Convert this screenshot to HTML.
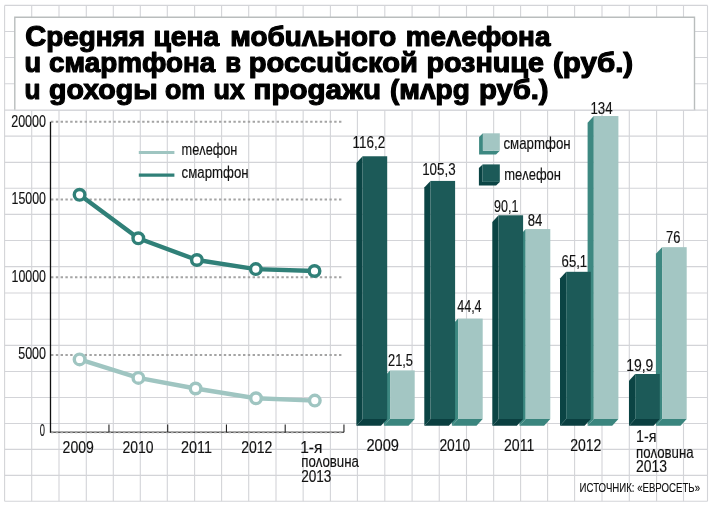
<!DOCTYPE html><html><head><meta charset="utf-8"><style>html,body{margin:0;padding:0;background:#fff;}svg{display:block}text{font-family:"Liberation Sans",sans-serif;}svg{will-change:transform}</style></head><body>
<svg width="712" height="508" viewBox="0 0 712 508">
<rect x="0" y="0" width="712" height="508" fill="#fff"/>
<line x1="4.60" y1="5.40" x2="4.60" y2="501.20" stroke="#d3d4d8" stroke-width="1.1"/>
<line x1="31.70" y1="5.40" x2="31.70" y2="501.20" stroke="#d3d4d8" stroke-width="1.1"/>
<line x1="59.00" y1="5.40" x2="59.00" y2="501.20" stroke="#d3d4d8" stroke-width="1.1"/>
<line x1="86.30" y1="5.40" x2="86.30" y2="501.20" stroke="#d3d4d8" stroke-width="1.1"/>
<line x1="113.30" y1="5.40" x2="113.30" y2="501.20" stroke="#d3d4d8" stroke-width="1.1"/>
<line x1="140.30" y1="5.40" x2="140.30" y2="501.20" stroke="#d3d4d8" stroke-width="1.1"/>
<line x1="167.30" y1="5.40" x2="167.30" y2="501.20" stroke="#d3d4d8" stroke-width="1.1"/>
<line x1="194.60" y1="5.40" x2="194.60" y2="501.20" stroke="#d3d4d8" stroke-width="1.1"/>
<line x1="221.60" y1="5.40" x2="221.60" y2="501.20" stroke="#d3d4d8" stroke-width="1.1"/>
<line x1="248.70" y1="5.40" x2="248.70" y2="501.20" stroke="#d3d4d8" stroke-width="1.1"/>
<line x1="276.00" y1="5.40" x2="276.00" y2="501.20" stroke="#d3d4d8" stroke-width="1.1"/>
<line x1="303.15" y1="5.40" x2="303.15" y2="501.20" stroke="#d3d4d8" stroke-width="1.1"/>
<line x1="330.40" y1="5.40" x2="330.40" y2="501.20" stroke="#d3d4d8" stroke-width="1.1"/>
<line x1="357.40" y1="5.40" x2="357.40" y2="501.20" stroke="#d3d4d8" stroke-width="1.1"/>
<line x1="384.80" y1="5.40" x2="384.80" y2="501.20" stroke="#d3d4d8" stroke-width="1.1"/>
<line x1="412.10" y1="5.40" x2="412.10" y2="501.20" stroke="#d3d4d8" stroke-width="1.1"/>
<line x1="439.25" y1="5.40" x2="439.25" y2="501.20" stroke="#d3d4d8" stroke-width="1.1"/>
<line x1="466.50" y1="5.40" x2="466.50" y2="501.20" stroke="#d3d4d8" stroke-width="1.1"/>
<line x1="493.65" y1="5.40" x2="493.65" y2="501.20" stroke="#d3d4d8" stroke-width="1.1"/>
<line x1="520.60" y1="5.40" x2="520.60" y2="501.20" stroke="#d3d4d8" stroke-width="1.1"/>
<line x1="547.60" y1="5.40" x2="547.60" y2="501.20" stroke="#d3d4d8" stroke-width="1.1"/>
<line x1="574.60" y1="5.40" x2="574.60" y2="501.20" stroke="#d3d4d8" stroke-width="1.1"/>
<line x1="602.00" y1="5.40" x2="602.00" y2="501.20" stroke="#d3d4d8" stroke-width="1.1"/>
<line x1="629.30" y1="5.40" x2="629.30" y2="501.20" stroke="#d3d4d8" stroke-width="1.1"/>
<line x1="656.60" y1="5.40" x2="656.60" y2="501.20" stroke="#d3d4d8" stroke-width="1.1"/>
<line x1="683.50" y1="5.40" x2="683.50" y2="501.20" stroke="#d3d4d8" stroke-width="1.1"/>
<line x1="707.50" y1="5.40" x2="707.50" y2="501.20" stroke="#d3d4d8" stroke-width="1.1"/>
<line x1="4.60" y1="5.40" x2="707.50" y2="5.40" stroke="#d3d4d8" stroke-width="1.1"/>
<line x1="4.60" y1="31.50" x2="707.50" y2="31.50" stroke="#d3d4d8" stroke-width="1.1"/>
<line x1="4.60" y1="57.55" x2="707.50" y2="57.55" stroke="#d3d4d8" stroke-width="1.1"/>
<line x1="4.60" y1="83.80" x2="707.50" y2="83.80" stroke="#d3d4d8" stroke-width="1.1"/>
<line x1="4.60" y1="110.10" x2="707.50" y2="110.10" stroke="#d3d4d8" stroke-width="1.1"/>
<line x1="4.60" y1="136.10" x2="707.50" y2="136.10" stroke="#d3d4d8" stroke-width="1.1"/>
<line x1="4.60" y1="162.40" x2="707.50" y2="162.40" stroke="#d3d4d8" stroke-width="1.1"/>
<line x1="4.60" y1="188.30" x2="707.50" y2="188.30" stroke="#d3d4d8" stroke-width="1.1"/>
<line x1="4.60" y1="214.40" x2="707.50" y2="214.40" stroke="#d3d4d8" stroke-width="1.1"/>
<line x1="4.60" y1="240.50" x2="707.50" y2="240.50" stroke="#d3d4d8" stroke-width="1.1"/>
<line x1="4.60" y1="266.60" x2="707.50" y2="266.60" stroke="#d3d4d8" stroke-width="1.1"/>
<line x1="4.60" y1="293.00" x2="707.50" y2="293.00" stroke="#d3d4d8" stroke-width="1.1"/>
<line x1="4.60" y1="319.25" x2="707.50" y2="319.25" stroke="#d3d4d8" stroke-width="1.1"/>
<line x1="4.60" y1="345.35" x2="707.50" y2="345.35" stroke="#d3d4d8" stroke-width="1.1"/>
<line x1="4.60" y1="371.50" x2="707.50" y2="371.50" stroke="#d3d4d8" stroke-width="1.1"/>
<line x1="4.60" y1="397.50" x2="707.50" y2="397.50" stroke="#d3d4d8" stroke-width="1.1"/>
<line x1="4.60" y1="423.50" x2="707.50" y2="423.50" stroke="#d3d4d8" stroke-width="1.1"/>
<line x1="4.60" y1="449.35" x2="707.50" y2="449.35" stroke="#d3d4d8" stroke-width="1.1"/>
<line x1="4.60" y1="475.35" x2="707.50" y2="475.35" stroke="#d3d4d8" stroke-width="1.1"/>
<line x1="4.60" y1="501.20" x2="707.50" y2="501.20" stroke="#d3d4d8" stroke-width="1.1"/>
<path d="M14.8 110.1 V17.3 H694.5 V110.1" fill="#fff" stroke="#b9bdbd" stroke-width="1.4"/>
<line x1="14" y1="110.1" x2="695.3" y2="110.1" stroke="#d3d4d8" stroke-width="1.1"/>
<text x="25.20" y="46.3" font-size="27.8" font-weight="bold" fill="#000" textLength="119.80" lengthAdjust="spacingAndGlyphs" stroke="#000" stroke-width="1.2" stroke-linejoin="round"><tspan font-size="29">С</tspan>реgняя</text>
<text x="153.40" y="46.3" font-size="27.8" font-weight="bold" fill="#000" textLength="65.80" lengthAdjust="spacingAndGlyphs" stroke="#000" stroke-width="1.2" stroke-linejoin="round">цена</text>
<text x="230.20" y="46.3" font-size="27.8" font-weight="bold" fill="#000" textLength="166.20" lengthAdjust="spacingAndGlyphs" stroke="#000" stroke-width="1.2" stroke-linejoin="round">мобuʌьного</text>
<text x="405.80" y="46.3" font-size="27.8" font-weight="bold" fill="#000" textLength="144.60" lengthAdjust="spacingAndGlyphs" stroke="#000" stroke-width="1.2" stroke-linejoin="round">mеʌефона</text>
<text x="24.60" y="72.3" font-size="27.8" font-weight="bold" fill="#000" textLength="16.60" lengthAdjust="spacingAndGlyphs" stroke="#000" stroke-width="1.2" stroke-linejoin="round">u</text>
<text x="49.00" y="72.3" font-size="27.8" font-weight="bold" fill="#000" textLength="166.20" lengthAdjust="spacingAndGlyphs" stroke="#000" stroke-width="1.2" stroke-linejoin="round">смарmфона</text>
<text x="225.20" y="72.3" font-size="27.8" font-weight="bold" fill="#000" textLength="15.80" lengthAdjust="spacingAndGlyphs" stroke="#000" stroke-width="1.2" stroke-linejoin="round">в</text>
<text x="248.80" y="72.3" font-size="27.8" font-weight="bold" fill="#000" textLength="169.00" lengthAdjust="spacingAndGlyphs" stroke="#000" stroke-width="1.2" stroke-linejoin="round">россuŭской</text>
<text x="426.40" y="72.3" font-size="27.8" font-weight="bold" fill="#000" textLength="117.60" lengthAdjust="spacingAndGlyphs" stroke="#000" stroke-width="1.2" stroke-linejoin="round">рознuце</text>
<text x="553.00" y="72.3" font-size="27.8" font-weight="bold" fill="#000" textLength="80.20" lengthAdjust="spacingAndGlyphs" stroke="#000" stroke-width="1.2" stroke-linejoin="round">(руб.)</text>
<text x="24.40" y="99.2" font-size="27.8" font-weight="bold" fill="#000" textLength="16.00" lengthAdjust="spacingAndGlyphs" stroke="#000" stroke-width="1.2" stroke-linejoin="round">u</text>
<text x="49.00" y="99.2" font-size="27.8" font-weight="bold" fill="#000" textLength="108.60" lengthAdjust="spacingAndGlyphs" stroke="#000" stroke-width="1.2" stroke-linejoin="round">gохоgы</text>
<text x="165.00" y="99.2" font-size="27.8" font-weight="bold" fill="#000" textLength="40.20" lengthAdjust="spacingAndGlyphs" stroke="#000" stroke-width="1.2" stroke-linejoin="round">om</text>
<text x="213.40" y="99.2" font-size="27.8" font-weight="bold" fill="#000" textLength="31.40" lengthAdjust="spacingAndGlyphs" stroke="#000" stroke-width="1.2" stroke-linejoin="round">uх</text>
<text x="253.60" y="99.2" font-size="27.8" font-weight="bold" fill="#000" textLength="127.40" lengthAdjust="spacingAndGlyphs" stroke="#000" stroke-width="1.2" stroke-linejoin="round">проgажu</text>
<text x="390.00" y="99.2" font-size="27.8" font-weight="bold" fill="#000" textLength="79.80" lengthAdjust="spacingAndGlyphs" stroke="#000" stroke-width="1.2" stroke-linejoin="round">(мʌрg</text>
<text x="479.00" y="99.2" font-size="27.8" font-weight="bold" fill="#000" textLength="69.60" lengthAdjust="spacingAndGlyphs" stroke="#000" stroke-width="1.2" stroke-linejoin="round">руб.)</text>
<line x1="51" y1="121.8" x2="341.5" y2="121.8" stroke="#a4a4a4" stroke-width="2" stroke-dasharray="2.4 2.4"/>
<line x1="51" y1="199.5" x2="341.5" y2="199.5" stroke="#a4a4a4" stroke-width="2" stroke-dasharray="2.4 2.4"/>
<line x1="51" y1="277.2" x2="341.5" y2="277.2" stroke="#a4a4a4" stroke-width="2" stroke-dasharray="2.4 2.4"/>
<line x1="51" y1="354.9" x2="341.5" y2="354.9" stroke="#a4a4a4" stroke-width="2" stroke-dasharray="2.4 2.4"/>
<line x1="50.5" y1="432.2" x2="344" y2="432.2" stroke="#111" stroke-width="1"/>
<line x1="51" y1="432.2" x2="341.5" y2="432.2" stroke="#a4a4a4" stroke-width="2" stroke-dasharray="2.4 2.4"/>
<line x1="50.5" y1="121.8" x2="50.5" y2="432.7" stroke="#111" stroke-width="1.3"/>
<line x1="108.95" y1="424.5" x2="108.95" y2="432.2" stroke="#222" stroke-width="1.1"/>
<line x1="167.70" y1="424.5" x2="167.70" y2="432.2" stroke="#222" stroke-width="1.1"/>
<line x1="226.45" y1="424.5" x2="226.45" y2="432.2" stroke="#222" stroke-width="1.1"/>
<line x1="285.20" y1="424.5" x2="285.20" y2="432.2" stroke="#222" stroke-width="1.1"/>
<line x1="343.95" y1="424.5" x2="343.95" y2="432.2" stroke="#222" stroke-width="1.1"/>
<text x="11.20" y="126.8" font-size="16" font-weight="normal" fill="#111" textLength="34.80" lengthAdjust="spacingAndGlyphs" stroke="#111" stroke-width="0.15">20000</text>
<text x="11.60" y="203.9" font-size="16" font-weight="normal" fill="#111" textLength="34.40" lengthAdjust="spacingAndGlyphs" stroke="#111" stroke-width="0.15">15000</text>
<text x="11.60" y="281.8" font-size="16" font-weight="normal" fill="#111" textLength="34.40" lengthAdjust="spacingAndGlyphs" stroke="#111" stroke-width="0.15">10000</text>
<text x="18.20" y="359.0" font-size="16" font-weight="normal" fill="#111" textLength="27.80" lengthAdjust="spacingAndGlyphs" stroke="#111" stroke-width="0.15">5000</text>
<text x="39.80" y="436.4" font-size="16" font-weight="normal" fill="#111" textLength="5.20" lengthAdjust="spacingAndGlyphs" stroke="#111" stroke-width="0.15">0</text>
<text x="62.60" y="452.5" font-size="16" font-weight="normal" fill="#111" textLength="31.20" lengthAdjust="spacingAndGlyphs" stroke="#111" stroke-width="0.15">2009</text>
<text x="122.40" y="452.5" font-size="16" font-weight="normal" fill="#111" textLength="31.00" lengthAdjust="spacingAndGlyphs" stroke="#111" stroke-width="0.15">2010</text>
<text x="181.00" y="452.5" font-size="16" font-weight="normal" fill="#111" textLength="31.00" lengthAdjust="spacingAndGlyphs" stroke="#111" stroke-width="0.15">2011</text>
<text x="241.20" y="452.5" font-size="16" font-weight="normal" fill="#111" textLength="31.20" lengthAdjust="spacingAndGlyphs" stroke="#111" stroke-width="0.15">2012</text>
<text x="300.20" y="452.5" font-size="16" font-weight="normal" fill="#111" textLength="22.20" lengthAdjust="spacingAndGlyphs" stroke="#111" stroke-width="0.15">1-я</text>
<text x="301.20" y="467.2" font-size="16" font-weight="normal" fill="#111" textLength="57.80" lengthAdjust="spacingAndGlyphs" stroke="#111" stroke-width="0.15">поʌовuна</text>
<text x="301.20" y="482.1" font-size="16" font-weight="normal" fill="#111" textLength="30.20" lengthAdjust="spacingAndGlyphs" stroke="#111" stroke-width="0.15">2013</text>
<path d="M79.6,359.4 L138.4,377.9 L195.6,388.5 L256,398.3 L314.8,400.6" fill="none" stroke="#9fc5c1" stroke-width="4.4" stroke-linejoin="round"/>
<circle cx="79.6" cy="359.4" r="5.3" fill="#fff" stroke="#9fc5c1" stroke-width="3.4"/>
<circle cx="138.4" cy="377.9" r="5.3" fill="#fff" stroke="#9fc5c1" stroke-width="3.4"/>
<circle cx="195.6" cy="388.5" r="5.3" fill="#fff" stroke="#9fc5c1" stroke-width="3.4"/>
<circle cx="256" cy="398.3" r="5.3" fill="#fff" stroke="#9fc5c1" stroke-width="3.4"/>
<circle cx="314.8" cy="400.6" r="5.3" fill="#fff" stroke="#9fc5c1" stroke-width="3.4"/>
<path d="M79.6,194.8 L138.3,238.3 L196.9,260 L255.8,269.1 L314.5,271" fill="none" stroke="#308078" stroke-width="4.4" stroke-linejoin="round"/>
<circle cx="79.6" cy="194.8" r="5.3" fill="#fff" stroke="#308078" stroke-width="3.4"/>
<circle cx="138.3" cy="238.3" r="5.3" fill="#fff" stroke="#308078" stroke-width="3.4"/>
<circle cx="196.9" cy="260" r="5.3" fill="#fff" stroke="#308078" stroke-width="3.4"/>
<circle cx="255.8" cy="269.1" r="5.3" fill="#fff" stroke="#308078" stroke-width="3.4"/>
<circle cx="314.5" cy="271" r="5.3" fill="#fff" stroke="#308078" stroke-width="3.4"/>
<line x1="138.8" y1="152.4" x2="174.4" y2="152.4" stroke="#9fc5c1" stroke-width="3"/>
<line x1="138.8" y1="175.1" x2="174.4" y2="175.1" stroke="#308078" stroke-width="3.4"/>
<text x="181.60" y="154.8" font-size="16" font-weight="normal" fill="#111" textLength="55.80" lengthAdjust="spacingAndGlyphs" stroke="#111" stroke-width="0.15">mеʌефон</text>
<text x="181.60" y="177.5" font-size="16" font-weight="normal" fill="#111" textLength="67.00" lengthAdjust="spacingAndGlyphs" stroke="#111" stroke-width="0.15">смарmфон</text>
<polygon points="390.1,419.0 414.70000000000005,419.0 408.50000000000006,425.7 383.90000000000003,425.7" fill="#3a857e"/>
<polygon points="390.1,370.3885 383.90000000000003,377.0885 383.90000000000003,425.7 390.1,419.0" fill="#3d8881"/>
<rect x="390.1" y="370.39" width="24.6" height="48.61" fill="#a3c6c3"/>
<polygon points="362.6,419.0 387.20000000000005,419.0 381.00000000000006,425.7 356.40000000000003,425.7" fill="#0a3f40"/>
<polygon points="362.6,156.27179999999998 356.40000000000003,162.97179999999997 356.40000000000003,425.7 362.6,419.0" fill="#0b4444"/>
<rect x="362.6" y="156.27" width="24.6" height="262.73" fill="#1c5a58"/>
<polygon points="458.1,419.0 482.70000000000005,419.0 476.50000000000006,425.7 451.90000000000003,425.7" fill="#3a857e"/>
<polygon points="458.1,318.6116 451.90000000000003,325.3116 451.90000000000003,425.7 458.1,419.0" fill="#3d8881"/>
<rect x="458.1" y="318.61" width="24.6" height="100.39" fill="#a3c6c3"/>
<polygon points="430.5,419.0 455.1,419.0 448.90000000000003,425.7 424.3,425.7" fill="#0a3f40"/>
<polygon points="430.5,180.9167 424.3,187.61669999999998 424.3,425.7 430.5,419.0" fill="#0b4444"/>
<rect x="430.5" y="180.92" width="24.6" height="238.08" fill="#1c5a58"/>
<polygon points="525.7,419.0 550.3000000000001,419.0 544.1,425.7 519.5,425.7" fill="#3a857e"/>
<polygon points="525.7,229.076 519.5,235.77599999999998 519.5,425.7 525.7,419.0" fill="#3d8881"/>
<rect x="525.7" y="229.08" width="24.6" height="189.92" fill="#a3c6c3"/>
<polygon points="498.5,419.0 523.1,419.0 516.9,425.7 492.3,425.7" fill="#0a3f40"/>
<polygon points="498.5,215.2839 492.3,221.98389999999998 492.3,425.7 498.5,419.0" fill="#0b4444"/>
<rect x="498.5" y="215.28" width="24.6" height="203.72" fill="#1c5a58"/>
<polygon points="593.8,419.0 618.4,419.0 612.1999999999999,425.7 587.5999999999999,425.7" fill="#3a857e"/>
<polygon points="593.8,116.02600000000001 587.5999999999999,122.72600000000001 587.5999999999999,425.7 593.8,419.0" fill="#3d8881"/>
<rect x="593.8" y="116.03" width="24.6" height="302.97" fill="#a3c6c3"/>
<polygon points="566.2,419.0 590.8000000000001,419.0 584.6,425.7 560.0,425.7" fill="#0a3f40"/>
<polygon points="566.2,271.8089 560.0,278.5089 560.0,425.7 566.2,419.0" fill="#0b4444"/>
<rect x="566.2" y="271.81" width="24.6" height="147.19" fill="#1c5a58"/>
<polygon points="662.1,419.0 686.7,419.0 680.5,425.7 655.9,425.7" fill="#3a857e"/>
<polygon points="662.1,247.164 655.9,253.86399999999998 655.9,425.7 662.1,419.0" fill="#3d8881"/>
<rect x="662.1" y="247.16" width="24.6" height="171.84" fill="#a3c6c3"/>
<polygon points="635.2,419.0 659.8000000000001,419.0 653.6,425.7 629.0,425.7" fill="#0a3f40"/>
<polygon points="635.2,374.0061 629.0,380.7061 629.0,425.7 635.2,419.0" fill="#0b4444"/>
<rect x="635.2" y="374.01" width="24.6" height="44.99" fill="#1c5a58"/>
<text x="352.60" y="148.2" font-size="15.6" font-weight="normal" fill="#111" textLength="32.60" lengthAdjust="spacingAndGlyphs" stroke="#111" stroke-width="0.15">116,2</text>
<text x="388.00" y="365.8" font-size="15.6" font-weight="normal" fill="#111" textLength="25.00" lengthAdjust="spacingAndGlyphs" stroke="#111" stroke-width="0.15">21,5</text>
<text x="422.20" y="175.2" font-size="15.6" font-weight="normal" fill="#111" textLength="33.40" lengthAdjust="spacingAndGlyphs" stroke="#111" stroke-width="0.15">105,3</text>
<text x="457.20" y="312.4" font-size="15.6" font-weight="normal" fill="#111" textLength="24.40" lengthAdjust="spacingAndGlyphs" stroke="#111" stroke-width="0.15">44,4</text>
<text x="494.00" y="211.5" font-size="15.6" font-weight="normal" fill="#111" textLength="24.40" lengthAdjust="spacingAndGlyphs" stroke="#111" stroke-width="0.15">90,1</text>
<text x="527.80" y="226.0" font-size="15.6" font-weight="normal" fill="#111" textLength="14.60" lengthAdjust="spacingAndGlyphs" stroke="#111" stroke-width="0.15">84</text>
<text x="561.60" y="266.9" font-size="15.6" font-weight="normal" fill="#111" textLength="25.60" lengthAdjust="spacingAndGlyphs" stroke="#111" stroke-width="0.15">65,1</text>
<text x="590.40" y="114.1" font-size="15.6" font-weight="normal" fill="#111" textLength="22.20" lengthAdjust="spacingAndGlyphs" stroke="#111" stroke-width="0.15">134</text>
<text x="626.20" y="371.2" font-size="15.6" font-weight="normal" fill="#111" textLength="27.20" lengthAdjust="spacingAndGlyphs" stroke="#111" stroke-width="0.15">19,9</text>
<text x="666.00" y="243.4" font-size="15.6" font-weight="normal" fill="#111" textLength="14.40" lengthAdjust="spacingAndGlyphs" stroke="#111" stroke-width="0.15">76</text>
<polygon points="482.9,133.3 479.09999999999997,137.10000000000002 479.09999999999997,154.50000000000003 495.99999999999994,154.50000000000003 499.79999999999995,150.70000000000002 482.9,150.70000000000002" fill="#3d8881"/>
<rect x="482.9" y="133.3" width="16.9" height="17.4" fill="#a3c6c3"/>
<polygon points="482.6,164.4 478.90000000000003,168.1 478.90000000000003,185.6 496.1,185.6 499.8,181.9 482.6,181.9" fill="#0b4444"/>
<rect x="482.6" y="164.4" width="17.2" height="17.5" fill="#1c5a58"/>
<text x="503.40" y="148.5" font-size="16.6" font-weight="normal" fill="#111" textLength="67.20" lengthAdjust="spacingAndGlyphs" stroke="#111" stroke-width="0.15">смарmфон</text>
<text x="504.20" y="179.7" font-size="16.6" font-weight="normal" fill="#111" textLength="56.80" lengthAdjust="spacingAndGlyphs" stroke="#111" stroke-width="0.15">mеʌефон</text>
<text x="366.40" y="450.6" font-size="16" font-weight="normal" fill="#111" textLength="32.60" lengthAdjust="spacingAndGlyphs" stroke="#111" stroke-width="0.15">2009</text>
<text x="439.40" y="450.6" font-size="16" font-weight="normal" fill="#111" textLength="30.80" lengthAdjust="spacingAndGlyphs" stroke="#111" stroke-width="0.15">2010</text>
<text x="504.00" y="450.6" font-size="16" font-weight="normal" fill="#111" textLength="30.40" lengthAdjust="spacingAndGlyphs" stroke="#111" stroke-width="0.15">2011</text>
<text x="570.20" y="450.6" font-size="16" font-weight="normal" fill="#111" textLength="31.20" lengthAdjust="spacingAndGlyphs" stroke="#111" stroke-width="0.15">2012</text>
<text x="636.00" y="442.4" font-size="16" font-weight="normal" fill="#111" textLength="20.40" lengthAdjust="spacingAndGlyphs" stroke="#111" stroke-width="0.15">1-я</text>
<text x="636.00" y="457.8" font-size="16" font-weight="normal" fill="#111" textLength="57.60" lengthAdjust="spacingAndGlyphs" stroke="#111" stroke-width="0.15">поʌовuна</text>
<text x="636.00" y="472.4" font-size="16" font-weight="normal" fill="#111" textLength="31.00" lengthAdjust="spacingAndGlyphs" stroke="#111" stroke-width="0.15">2013</text>
<text x="579.60" y="492.4" font-size="12.9" font-weight="normal" fill="#111" textLength="120.40" lengthAdjust="spacingAndGlyphs" stroke="#111" stroke-width="0.15">ИСТОЧНИК: «ЕВРОСЕТЬ»</text>
</svg></body></html>
